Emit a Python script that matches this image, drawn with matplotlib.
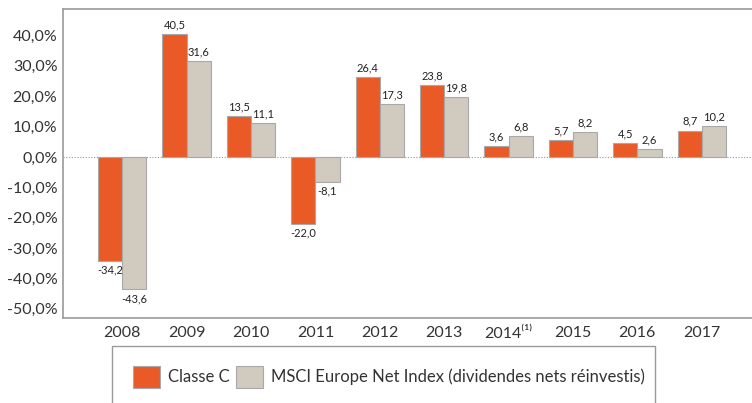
import matplotlib
matplotlib.use("Agg")
import matplotlib.pyplot as plt
from matplotlib.patches import Rectangle
import numpy as np

years = ["2008", "2009", "2010", "2011", "2012", "2013", "2014\u207d\u00b9\u207e", "2015", "2016", "2017"]
classe_c = [-34.2, 40.5, 13.5, -22.0, 26.4, 23.8, 3.6, 5.7, 4.5, 8.7]
msci = [-43.6, 31.6, 11.1, -8.1, 17.3, 19.8, 6.8, 8.2, 2.6, 10.2]
yticks = [40, 30, 20, 10, 0, -10, -20, -30, -40, -50]
series_names = ["Classe C", "MSCI Europe Net Index (dividendes nets réinvestis)"]

plt.rcParams['font.family'] = ['Lato', 'DejaVu Sans']

W, H = 752, 403
fig = plt.figure(figsize=(W / 100, H / 100), dpi=100)
ax = fig.add_axes([63 / W, 1 - 318 / H, 1 - 63 / W, (318 - 9) / H])

orange = "#E95A27"
grey = "#D0CABF"
edge = "#A9A9A9"
x = np.arange(len(years))
bw = 0.375
b1 = ax.bar(x - bw / 2, classe_c, bw, color=orange, edgecolor=edge, linewidth=0.8, label=series_names[0])
b2 = ax.bar(x + bw / 2, msci, bw, color=grey, edgecolor=edge, linewidth=0.8, label=series_names[1])

def fmt(v):
    return f"{v:.1f}".replace(".", ",")

for bars, vals in ((b1, classe_c), (b2, msci)):
    for r, v in zip(bars, vals):
        cx = r.get_x() + r.get_width() / 2
        if v >= 0:
            ax.text(cx, v + 1.2, fmt(v), ha="center", va="bottom", fontsize=8, color="#222222")
        else:
            ax.text(cx, v - 1.2, fmt(v), ha="center", va="top", fontsize=8, color="#222222")

ax.axhline(0, color="#999999", linestyle=(0, (1, 1.5)), linewidth=0.8, zorder=0)

ax.set_xlim(-0.92, 9.78)
ax.set_ylim(-53, 48.7)
ax.set_yticks(yticks)
ax.set_yticklabels([f"{t:.1f}%".replace(".", ",") for t in yticks], fontsize=11.5, color="#333333")
ax.set_xticks(x)
ax.set_xticklabels(years, fontsize=11.5, color="#333333")
ax.tick_params(axis="both", length=0, pad=4)
ax.tick_params(axis="x", pad=6)

for s in ("top", "bottom", "left"):
    ax.spines[s].set_color("#9A9A9A")
    ax.spines[s].set_linewidth(1.2)
ax.spines["right"].set_visible(False)

# legend frame (clipped at bottom of image)
fig.patches.append(Rectangle((112 / W, -0.1), (655 - 112) / W, (403 - 346) / H + 0.1,
                             transform=fig.transFigure, facecolor="white",
                             edgecolor="#9A9A9A", linewidth=1.0))
leg = fig.legend(handles=[b1, b2], labels=series_names, loc="center left",
                 bbox_to_anchor=(118 / W, 1 - 377 / H), ncol=2, frameon=False,
                 fontsize=12, handlelength=1.6, handleheight=1.6,
                 columnspacing=0.4, handletextpad=0.5, labelcolor="#333333")

fig.savefig("out.png", dpi=100)
